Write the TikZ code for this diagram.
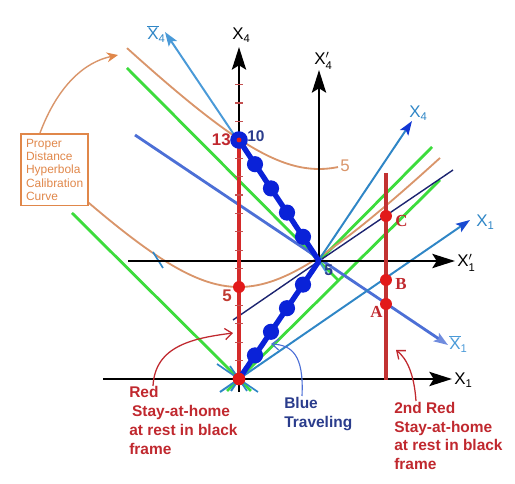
\documentclass[tikz,border=0pt]{standalone}
\usepackage{fontspec}
\setmainfont{Liberation Sans}
\newfontfamily\abcfont{Liberation Serif}
\usetikzlibrary{arrows.meta,calc,positioning}

\definecolor{stayred}{HTML}{D42A2A}
\definecolor{secondred}{HTML}{C23232}
\definecolor{dotred}{HTML}{E21A1A}
\definecolor{darkred}{HTML}{C0282E}
\definecolor{travblue}{HTML}{0A22D8}
\definecolor{steelb}{HTML}{2F86C6}
\definecolor{barblue}{HTML}{4C6FD6}
\definecolor{lightbar}{HTML}{4A9AD8}
\definecolor{conegreen}{HTML}{3CDC3C}
\definecolor{calorange}{HTML}{D9956A}
\definecolor{boxorange}{HTML}{E0874A}
\definecolor{navytext}{HTML}{2A3C8C}
\definecolor{navyline}{HTML}{1C2470}
\definecolor{tickred}{HTML}{C45050}

\newcommand{\axl}[2]{#1$_{\mbox{\fontsize{8}{9}\selectfont #2}}$}
\newcommand{\axlp}[2]{#1$^{\prime}_{\mbox{\fontsize{8}{9}\selectfont #2}}$}
\newcommand{\axlb}[2]{$\overline{\mbox{#1}}_{\mbox{\fontsize{8}{9}\selectfont #2}}$}

\begin{document}
\begin{tikzpicture}[x=0.025cm,y=-0.025cm,
    black axis/.style={line width=2.1pt,-{Stealth[length=16pt,width=10pt,inset=3pt]}},
    frame axis/.style={line width=1.4pt,-{Stealth[length=10pt,width=7pt,inset=2pt,color=#1]}},
    light cone/.style={conegreen,line width=2pt},
    calib/.style={calorange,line width=1.3pt},
    stay line/.style={line width=2.8pt},
    trav line/.style={travblue,line width=3.8pt,line join=round},
    trav dot/.style={circle,fill=travblue,inner sep=0pt,minimum size=11.5pt},
    red dot/.style={circle,fill=dotred,inner sep=0pt,minimum size=8.5pt},
    tickmark/.style={draw=tickred,line width=0.8pt},
    axis label/.style={anchor=base west,inner sep=0pt,font=\fontsize{12}{14}\selectfont},
    num label/.style={inner sep=0pt,font=\bfseries\fontsize{12}{14}\selectfont},
    abc label/.style={anchor=base west,inner sep=0pt,text=darkred,font=\abcfont\bfseries\fontsize{12}{14}\selectfont},
    note/.style={anchor=north west,inner sep=0pt,align=left,font=\bfseries\fontsize{11}{13.6}\selectfont},
    note arrow/.style={line width=0.9pt,-{Straight Barb[length=5pt,width=8pt]}}]
\useasboundingbox (0,0) rectangle (515,484);

% events
\coordinate (O) at (239,379);
\coordinate (Op) at (319,261);
\coordinate (E13) at (239,140);

% light cones
\draw[light cone] (127,68) -- (Op) -- (338,280);
\draw[light cone] (Op) -- (432,147);
\draw[light cone] (72,213) -- (O) -- (251,391);
\draw[light cone] (227,391) -- (O) -- (440,180);

% calibration hyperbolas
\draw[calib] plot[domain=127:338,samples=60] (\x,{261-92*sqrt(1+((\x-319)/92)^2)});
\draw[calib] plot[domain=88:440,samples=80] (\x,{379-92*sqrt(1+((\x-239)/92)^2)});

% moving frames
\coordinate (Xb4tip) at (165,32);
\coordinate (Xb1tail) at (135,135);
\coordinate (Xb1tip) at (448,345);
\coordinate (X4tip) at (412,121);
\coordinate (X1tip) at (470,220);
\draw[navyline,line width=1pt] (233,320) -- (Op) -- (453,170);
\draw[steelb,line width=1.2pt] (217,364) -- (258,392);
\draw[steelb,line width=1.2pt] (230,366) -- (247,391);
\draw[steelb,line width=1.2pt] (153,252) -- (163,268);
\draw[frame axis=lightbar,lightbar] (327,273) -- (Xb4tip);
\draw[frame axis=barblue!80,barblue,line width=2pt] (Xb1tail) -- (Xb1tip);
\draw[frame axis=travblue!80!steelb,steelb] (231,391) -- (X4tip);
\draw[frame axis=travblue!60!steelb,steelb] (220,392) -- (X1tip);

% black frame axes
\draw[black axis] (103,379) -- (452,379);
\draw[black axis] (239,392) -- (239,47);
\draw[black axis] (128,261) -- (455,261);
\draw[black axis] (Op) -- (319,70);

% red stay-at-home lines
\draw[stay line,stayred] (E13) -- (O);
\foreach \k in {1,...,16}
  \draw[tickmark] (235,{379-18.4*\k}) -- (243,{379-18.4*\k});
\draw[stay line,secondred] (386,173) -- (386,380);

% blue traveler
\draw[trav line] (O) -- (Op) -- (E13);
\foreach \f [count=\i] in {0.2,0.4,0.6,0.8}
  {\node[trav dot] (out\i) at ($(O)!\f!(Op)$) {};
   \node[trav dot] (back\i) at ($(Op)!\f!(E13)$) {};}
\node[trav dot,minimum size=12.5pt] (ev13) at (E13) {};
\node[red dot,minimum size=3.5pt] (ev13c) at (E13) {};
\node[red dot,minimum size=9pt] (origin) at (O) {};
\node[red dot] (ev5) at (239,287) {};
\node[red dot] (evA) at (386,304) {};
\node[red dot] (evB) at (386,280) {};
\node[red dot] (evC) at (386,216) {};

% axis labels
\node[axis label] (X1lab) at (454,385) {\axl{X}{1}};
\node[axis label] (X1plab) at (457,267) {\axlp{X}{1}};
\node[axis label,text=lightbar] (Xb1lab) at (449,350) {\axlb{X}{1}};
\node[axis label,text=steelb] (X1blab) at (476,227) {\axl{X}{1}};
\node[axis label,text=steelb] (X4blab) at (409,118) {\axl{X}{4}};
\node[axis label] (X4plab) at (314,65) {\axlp{X}{4}};
\node[axis label] (X4lab) at (232,40) {\axl{X}{4}};
\node[axis label,text=steelb] (Xb4lab) at (147,40) {\axlb{X}{4}};

% event labels
\node[num label,text=darkred,anchor=base east] (lab13) at (231,146) {13};
\node[num label,text=navytext,anchor=base west,font=\bfseries\fontsize{11}{13}\selectfont] (lab10) at (247,142) {10};
\node[num label,text=navytext,anchor=base west,font=\bfseries\fontsize{11}{13}\selectfont] (labOp) at (324,276) {5};
\node[num label,text=darkred!80!brown,anchor=base west] (lab5) at (222,302) {5};
\node[axis label,text=calorange] (labcal) at (340,172) {5};
\node[abc label] (labA) at (370,318) {A};
\node[abc label] (labB) at (395,290) {B};
\node[abc label] (labC) at (395,227) {C};

% notes
\node[draw=boxorange,line width=1.2pt,anchor=north west,align=left,inner sep=2pt,
      minimum width=48pt,minimum height=51pt,text=boxorange,
      font=\fontsize{8.5}{9.5}\selectfont] (calbox) at (20,133)
      {Proper\\Distance\\Hyperbola\\Calibration\\Curve};
\node[note,text=darkred] (rednote) at (129,386)
      {Red\\\hspace{2pt}Stay-at-home\\at rest in black\\frame};
\node[note,text=navytext] (bluenote) at (284,397) {Blue\\Traveling};
\node[note,text=darkred,font=\bfseries\fontsize{11}{13.2}\selectfont] (rednote2) at (394,402)
      {2nd Red\\Stay-at-home\\at rest in black\\frame};

% note arrows
\coordinate (redtail) at (153,386);
\coordinate (redtip) at (233,333);
\coordinate (bluetail) at (302,396);
\coordinate (bluetip) at (271,344);
\coordinate (red2tail) at (416,401);
\coordinate (red2tip) at (396,350);
\coordinate (caltail) at (40,133);
\coordinate (caltip) at (118,55);
\draw[note arrow,darkred] (redtail) .. controls (155,345) and (195,338) .. (redtip);
\draw[note arrow,barblue,line width=0.8pt] (bluetail) .. controls (304,355) and (292,345) .. (bluetip);
\draw[note arrow,darkred] (red2tail) .. controls (414,372) and (406,358) .. (red2tip);
\draw[calorange,line width=1pt,-{Stealth[length=8pt,width=7pt,color=boxorange]}] (caltail) .. controls (58,85) and (85,62) .. (caltip);
\end{tikzpicture}
\end{document}
